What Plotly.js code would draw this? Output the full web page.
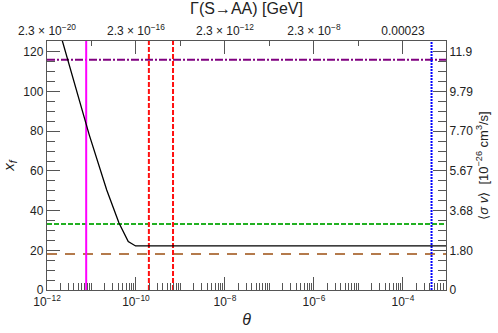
<!DOCTYPE html>
<html>
<head>
<meta charset="utf-8">
<script src="https://cdn.plot.ly/plotly-3.0.1.min.js"></script>
<style>
  html, body { margin: 0; padding: 0; background: #fff; }
  #chart { width: 498px; height: 333px; }
</style>
</head>
<body>
<div id="chart"></div>
<script>
// freeze-out curve x_f(theta)
var thetaCurve = [2e-12, 2.21e-12, 8.9e-12, 2.2e-11, 4.15e-11, 6.7e-11, 9.8e-11, 1e-9, 1e-7, 1e-5, 1e-3];
var xfCurve    = [129, 125.6, 78.2, 50.4, 33.8, 24.4, 22.2, 22.2, 22.2, 22.2, 22.2];

// vertical markers (theta)
var magentaTheta = 7.6e-12;
var redThetas = [1.95e-10, 6.8e-10];
var blueTheta = 4.4e-4;

// horizontal markers (x_f)
var purpleLevel = 116;
var greenLevel = 33.3;
var brownLevel = 18.2;

// top axis: Gamma(S->AA) labels at theta ticks
var topTickTheta = [1e-12, 1e-10, 1e-8, 1e-6, 1e-4];
var topTickText = ['2.3 × 10<sup>\u221220</sup>', '2.3 × 10<sup>\u221216</sup>',
                   '2.3 × 10<sup>\u221212</sup>', '2.3 × 10<sup>\u22128</sup>', '0.00023'];

// right axis: <sigma v> labels at x_f ticks
var rightTickVals = [0, 20, 40, 60, 80, 100, 120];
var rightTickText = ['0', '1.80', '3.68', '5.67', '7.70', '9.79', '11.9'];

var xMin = 1e-12, xMax = 9.3e-4;
var yTop = 125.5;

var minorTheta = [];
for (var e = -12; e <= -4; e++) {
  for (var d = 2; d <= 9; d++) minorTheta.push(d * Math.pow(10, e));
  if (e % 2 !== 0) minorTheta.push(Math.pow(10, e));
}
var oddDecades = [1e-11, 1e-9, 1e-7, 1e-5];

var traces = [];
function hline(y, color, dash, width) {
  traces.push({x: [xMin, xMax], y: [y, y], mode: 'lines', type: 'scatter',
    line: {color: color, dash: dash, width: width}, hoverinfo: 'skip'});
}
function vline(x, color, dash, width) {
  traces.push({x: [x, x], y: [0, yTop], mode: 'lines', type: 'scatter',
    line: {color: color, dash: dash, width: width}, hoverinfo: 'skip'});
}

hline(brownLevel, '#b47a4c', '10px,8px', 2);
hline(greenLevel, '#22b022', '5px,2px', 2);
hline(purpleLevel, '#800080', '8px,2px,2px,2px', 2);
vline(magentaTheta, '#ff00ff', 'solid', 2);
redThetas.forEach(function (t) { vline(t, '#ff1010', '5px,2px', 2); });
vline(blueTheta, '#0000ff', '2px,1px', 2);

traces.push({x: thetaCurve, y: xfCurve, mode: 'lines', type: 'scatter',
  line: {color: '#000', width: 1.3}, hoverinfo: 'skip'});

// dummy traces so the overlay axes are drawn
traces.push({x: [xMin], y: [0], xaxis: 'x2', yaxis: 'y', mode: 'markers', marker: {opacity: 0}, hoverinfo: 'skip'});
traces.push({x: [xMin], y: [0], xaxis: 'x', yaxis: 'y2', mode: 'markers', marker: {opacity: 0}, hoverinfo: 'skip'});

var fam = 'Liberation Sans, Arial, sans-serif';
var tickFont = {family: fam, size: 12, color: '#222'};
var axisCol = '#555';

var layout = {
  width: 498, height: 333,
  margin: {l: 47, r: 52, t: 41, b: 43},
  paper_bgcolor: '#fff', plot_bgcolor: '#fff',
  showlegend: false,
  font: tickFont,
  xaxis: {
    type: 'log', range: [Math.log10(xMin), Math.log10(xMax)],
    tickmode: 'array', tickvals: [1e-12, 1e-10, 1e-8, 1e-6, 1e-4],
    ticktext: ['10<sup>\u221212</sup>', '10<sup>\u221210</sup>', '10<sup>\u22128</sup>', '10<sup>\u22126</sup>', '10<sup>\u22124</sup>'],
    ticks: 'inside', ticklen: 13, tickcolor: axisCol, tickwidth: 1,
    minor: {tickmode: 'array', tickvals: minorTheta, ticks: 'inside', ticklen: 7, tickcolor: axisCol},
    showline: true, linecolor: axisCol, linewidth: 1.2, showgrid: false, zeroline: false,
    tickfont: tickFont,
    title: {text: '<i>θ</i>', font: {family: fam, size: 16, color: '#222'}, standoff: 6}
  },
  xaxis2: {
    type: 'log', overlaying: 'x', side: 'top', anchor: 'y',
    range: [Math.log10(xMin), Math.log10(xMax)],
    tickmode: 'array', tickvals: topTickTheta, ticktext: topTickText,
    ticks: 'inside', ticklen: 13, tickcolor: axisCol,
    minor: {tickmode: 'array', tickvals: oddDecades, ticks: 'inside', ticklen: 5, tickcolor: axisCol},
    showline: true, linecolor: axisCol, linewidth: 1.2, showgrid: false, zeroline: false,
    tickfont: {family: fam, size: 12, color: '#222'},
    title: {text: 'Γ(S→AA) [GeV]', font: {family: fam, size: 16, color: '#222'}, standoff: 3}
  },
  yaxis: {
    range: [0, yTop], tickmode: 'array', tickvals: rightTickVals,
    ticks: 'inside', ticklen: 13, tickcolor: axisCol,
    minor: {dtick: 5, ticks: 'inside', ticklen: 8, tickcolor: axisCol},
    showline: true, linecolor: axisCol, linewidth: 1.2, showgrid: false, zeroline: false,
    tickfont: tickFont,
    title: {text: '<i>x</i><sub><i>f</i></sub>', font: {family: fam, size: 15, color: '#222'}, standoff: 6}
  },
  yaxis2: {
    range: [0, yTop], overlaying: 'y', side: 'right', anchor: 'x',
    tickmode: 'array', tickvals: rightTickVals, ticktext: rightTickText,
    ticks: 'inside', ticklen: 13, tickcolor: axisCol,
    minor: {dtick: 5, ticks: 'inside', ticklen: 8, tickcolor: axisCol},
    showline: true, linecolor: axisCol, linewidth: 1.2, showgrid: false, zeroline: false,
    tickfont: tickFont,
    title: {text: '\u27E8<i>σ v</i>\u27E9  [10<sup>\u221226</sup> cm<sup>3</sup>/s]', font: {family: fam, size: 13, color: '#222'}, standoff: 6}
  }
};

Plotly.newPlot('chart', traces, layout, {displayModeBar: false, staticPlot: true});
</script>
</body>
</html>
